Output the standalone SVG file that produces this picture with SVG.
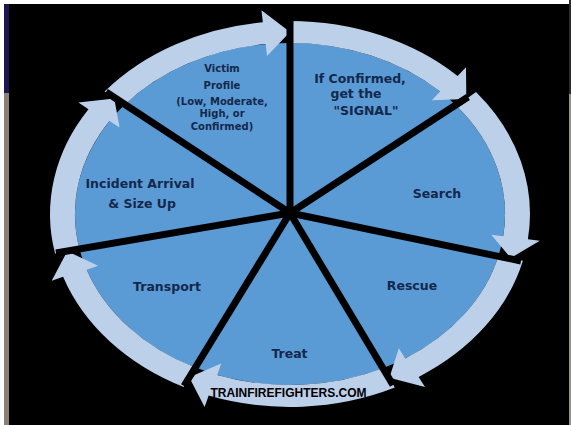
<svg xmlns="http://www.w3.org/2000/svg" width="571" height="425" viewBox="0 0 571 425">
<style>
.wedge{fill:#5b9bd5}
.arrow{fill:#bdd0ea}
.spoke{stroke:#000;stroke-width:7;stroke-linecap:butt}
.lbl{font-family:"DejaVu Sans",Verdana,sans-serif;font-weight:bold;font-size:12.5px;fill:#14284c;text-anchor:middle}
.sm{font-size:10px}
.wm{font-family:"Liberation Sans",Arial,sans-serif;font-weight:bold;font-size:12px;fill:#000;text-anchor:middle}
</style>
<rect x="0" y="0" width="571" height="425" fill="#ffffff"/>
<rect x="4" y="4" width="565" height="421" fill="#000"/>
<rect x="4" y="4" width="5" height="89" fill="#1c1650"/>
<rect x="4" y="93" width="5" height="332" fill="#8c8077"/>
<rect x="569" y="0" width="2" height="94" fill="#2a2a2a"/>
<rect x="569" y="94" width="2" height="331" fill="#9a8f88"/>

<g id="node-victim">
<path class="wedge" d="M290,213 L123.9,105.5 A215,171 0 0 1 290,43 Z"/>
<text class="lbl sm" x="222" y="71.6">Victim</text>
<text class="lbl sm" x="222" y="88.6">Profile</text>
<text class="lbl sm" x="222" y="104.6">(Low, Moderate,</text>
<text class="lbl sm" x="222" y="116.6">High, or</text>
<text class="lbl sm" x="222" y="129.6">Confirmed)</text>
</g>
<g id="node-signal">
<path class="wedge" d="M290,213 L290,43 A215,171 0 0 1 456.6,105.9 Z"/>
<text class="lbl" x="360" y="82.5">If Confirmed,</text>
<text class="lbl" x="356" y="97.5">get the</text>
<text class="lbl" x="366" y="114.5">"SIGNAL"</text>
</g>
<g id="node-search">
<path class="wedge" d="M290,213 L456.6,105.9 A215,171 0 0 1 498.6,255.4 Z"/>
<text class="lbl" x="437" y="197.5">Search</text>
</g>
<g id="node-rescue">
<path class="wedge" d="M290,213 L498.6,255.4 A215,171 0 0 1 383.9,367.8 Z"/>
<text class="lbl" x="412" y="289.5">Rescue</text>
</g>
<g id="node-treat">
<path class="wedge" d="M290,213 L383.9,367.8 A215,171 0 0 1 194.7,367.3 Z"/>
<text class="lbl" x="289.5" y="357.5">Treat</text>
</g>
<g id="node-transport">
<path class="wedge" d="M290,213 L194.7,367.3 A215,171 0 0 1 79.5,249 Z"/>
<text class="lbl" x="167" y="290.5">Transport</text>
</g>
<g id="node-incident">
<path class="wedge" d="M290,213 L79.5,249 A215,171 0 0 1 123.9,105.5 Z"/>
<text class="lbl" x="140" y="187.5">Incident Arrival</text>
<text class="lbl" x="142" y="207.5">&amp; Size Up</text>
</g>

<g id="connectors">
<path class="arrow" d="M104.6,91.5 A240,193 0 0 1 262.8,22.2 L261.5,10.3 L290,32 L267,56 L265.7,44.1 A215,171 0 0 0 123.9,105.5 Z"/>
<path class="arrow" d="M290,21 A240,193 0 0 1 457.6,75.9 L466,67.3 L466.3,99 L431.8,100.2 L440.2,91.6 A215,171 0 0 0 290,43 Z"/>
<path class="arrow" d="M476,92 A240,193 0 0 1 527.9,239.2 L539.8,240.8 L510.7,258 L491.3,234.7 L503.2,236.3 A215,171 0 0 0 456.6,105.9 Z"/>
<path class="arrow" d="M522.9,260.7 A240,193 0 0 1 418.6,376.9 L425,387.1 L389.4,377.7 L398.8,348.2 L405.2,358.4 A215,171 0 0 0 498.6,255.4 Z"/>
<path class="arrow" d="M394.8,387.6 A240,193 0 0 1 208.7,395.6 L204.6,406.9 L189.2,377.2 L221.2,363.6 L217.2,374.9 A215,171 0 0 0 383.9,367.8 Z"/>
<path class="arrow" d="M183.7,387 A240,193 0 0 1 63.1,276.8 L51.7,280.7 L67.3,251.2 L98.1,265.8 L86.7,269.7 A215,171 0 0 0 194.7,367.3 Z"/>
<path class="arrow" d="M55.1,253.5 A240,193 0 0 1 88.5,109.2 L78.4,102.6 L114.2,98.5 L119.6,127.6 L109.5,121.1 A215,171 0 0 0 79.5,249 Z"/>
<line class="spoke" x1="290" y1="213" x2="106" y2="92"/>
<line class="spoke" x1="290" y1="213" x2="290" y2="21"/>
<line class="spoke" x1="290" y1="213" x2="468" y2="97"/>
<line class="spoke" x1="290" y1="213" x2="521" y2="261"/>
<line class="spoke" x1="290" y1="213" x2="393" y2="385"/>
<line class="spoke" x1="290" y1="213" x2="184" y2="386"/>
<line class="spoke" x1="290" y1="213" x2="56" y2="253"/>
<circle cx="290" cy="213" r="6" fill="#000"/>
</g>
<text class="wm" x="288.5" y="397.3">TRAINFIREFIGHTERS.COM</text>
</svg>
